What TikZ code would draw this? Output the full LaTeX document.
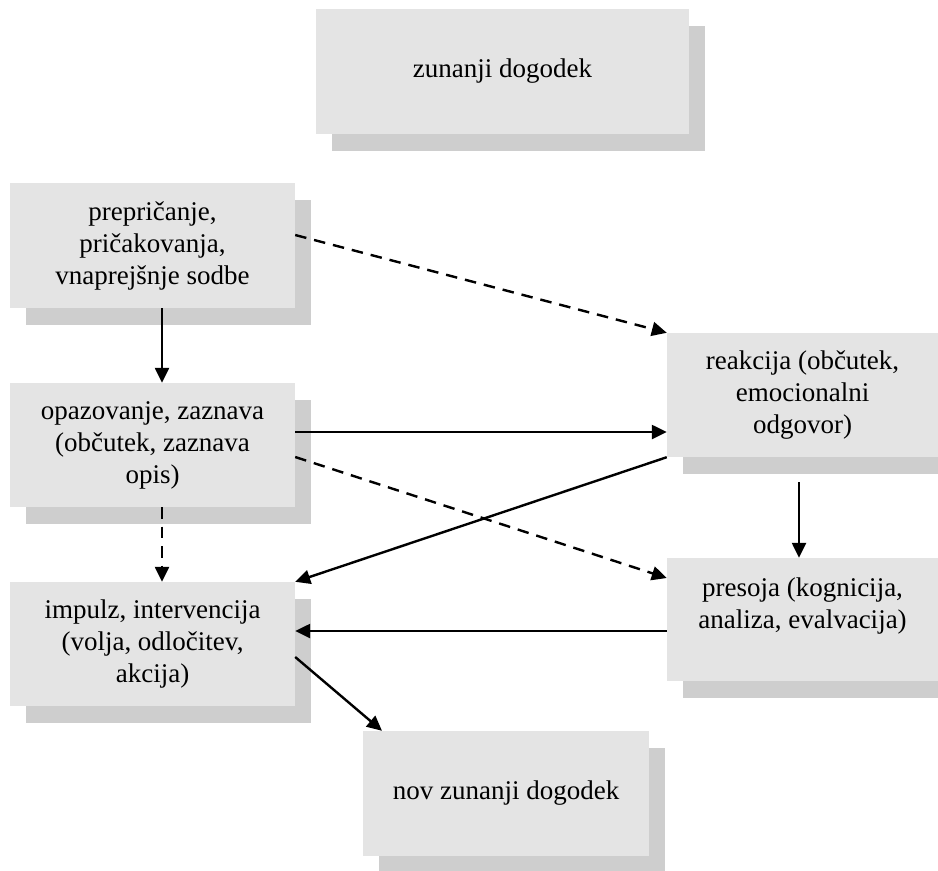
\documentclass[tikz,border=0pt]{standalone}
\usepackage{fontspec}
\setmainfont{Liberation Serif}
\usetikzlibrary{arrows.meta,shadows}
\definecolor{boxgray}{RGB}{228,228,228}
\definecolor{shgray}{RGB}{206,206,206}
\tikzset{
  box/.style={rectangle, fill=boxgray, inner sep=0pt, align=center,
    font=\fontsize{27}{32}\selectfont,
    drop shadow={shadow xshift=16pt, shadow yshift=-17pt, fill=shgray, opacity=1}},
  arr/.style={line width=2.4pt, -{Triangle[length=15pt,width=14pt]}},
  dsh/.style={arr, dash pattern=on 11.5pt off 8pt}
}
\begin{document}
\begin{tikzpicture}[x=1pt,y=-1pt]
\useasboundingbox (0,0) rectangle (938,871);
\clip (0,0) rectangle (938,871);
\node[box, minimum width=373pt, minimum height=125pt] (top) at (502.5,71.5) {zunanji dogodek};
\node[box, minimum width=285pt, minimum height=125pt] (b1) at (152.5,245.5) {prepričanje,\\pričakovanja,\\vnaprejšnje sodbe};
\node[box, minimum width=285pt, minimum height=124pt] (b2) at (152.5,445) {opazovanje, zaznava\\(občutek, zaznava\\opis)};
\node[box, minimum width=285pt, minimum height=124pt] (b3) at (152.5,644) {impulz, intervencija\\(volja, odločitev,\\akcija)};
\node[box, minimum width=286pt, minimum height=125pt] (b4) at (506,793.5) {nov zunanji dogodek};
\node[box, minimum width=271pt, minimum height=124pt] (r) at (802.5,395) {reakcija (občutek,\\emocionalni\\odgovor)};
\node[box, minimum width=271pt, minimum height=123pt] (p) at (802.5,619.5) {presoja (kognicija,\\analiza, evalvacija)\\\mbox{}};
% connectors
\draw[arr] (162,0 |- b1.south) -- (162,0 |- b2.north);
\draw[dsh] (b1.east |- 0,235) -- (r.north west);
\draw[arr] (b2.east |- 0,432) -- (r.west |- 0,432);
\draw[dsh] (b2.east |- 0,457) -- (p.west |- 0,578);
\draw[dsh] (162,0 |- b2.south) -- (162,0 |- b3.north);
\draw[arr] (r.south west) -- (b3.north east);
\draw[arr] (p.west |- 0,631) -- (b3.east |- 0,631);
\draw[arr] (r.south -| 799,0) ++(0,25) -- (p.north -| 799,0);
\draw[arr] (b3.east |- 0,657) -- (382,0 |- b4.north);
\end{tikzpicture}
\end{document}
